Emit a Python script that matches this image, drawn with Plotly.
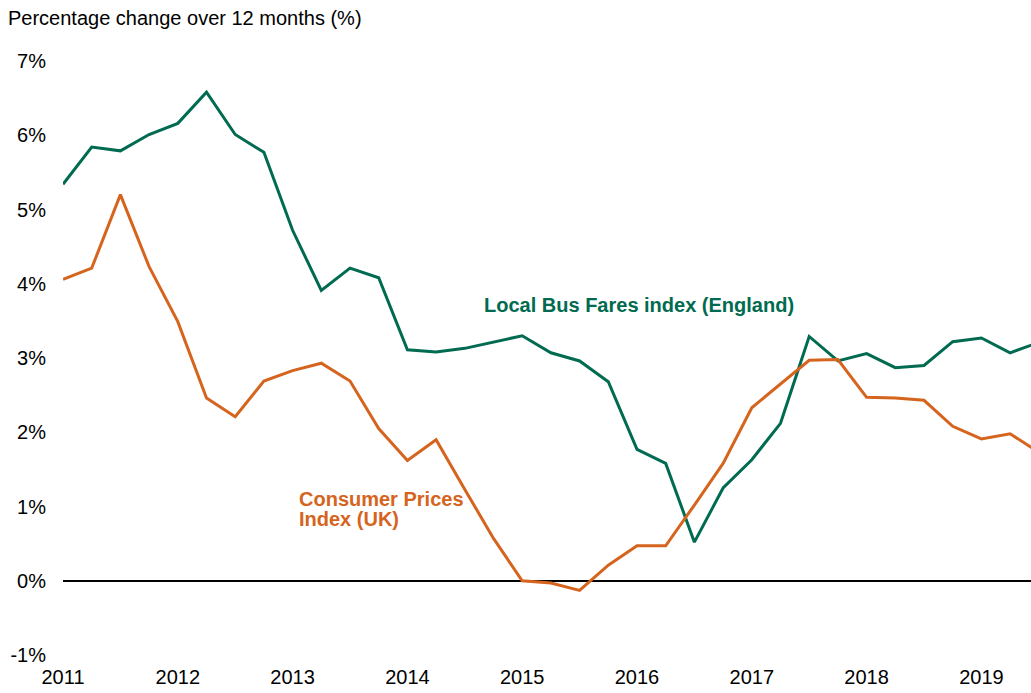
import plotly.graph_objects as go

# Quarterly observations, 2011 Q1 onward (x in decimal years)
quarters = [2011 + 0.25 * i for i in range(35)]

bus_fares = [5.34, 5.84, 5.79, 6.01, 6.16, 6.58, 6.01, 5.77, 4.72, 3.91,
             4.21, 4.08, 3.11, 3.08, 3.13, 3.22, 3.30, 3.07, 2.96, 2.68,
             1.77, 1.58, 0.52, 1.25, 1.63, 2.12, 3.29, 2.96, 3.06, 2.87,
             2.90, 3.22, 3.27, 3.07, 3.21]

cpi = [4.06, 4.21, 5.20, 4.23, 3.49, 2.46, 2.21, 2.69, 2.83, 2.93,
       2.69, 2.05, 1.62, 1.90, 1.23, 0.57, 0.00, -0.03, -0.13, 0.21,
       0.47, 0.47, 1.02, 1.58, 2.33, 2.65, 2.97, 2.98, 2.47, 2.46,
       2.43, 2.08, 1.91, 1.98, 1.73]

year_ticks = [2011, 2012, 2013, 2014, 2015, 2016, 2017, 2018, 2019]
year_labels = [str(y) for y in year_ticks]
y_ticks = [-1, 0, 1, 2, 3, 4, 5, 6, 7]
y_labels = [f"{v}%" for v in y_ticks]

GREEN = "#006B50"
ORANGE = "#D5641E"
FONT = "Liberation Sans, Arial, sans-serif"

fig = go.Figure()
fig.add_trace(go.Scatter(x=quarters, y=bus_fares, mode="lines",
                         line=dict(color=GREEN, width=3), name="Local Bus Fares index (England)"))
fig.add_trace(go.Scatter(x=quarters, y=cpi, mode="lines",
                         line=dict(color=ORANGE, width=3), name="Consumer Prices Index (UK)"))

fig.add_annotation(x=2016.02, y=3.71, xref="x", yref="y",
                   text="<b>Local Bus Fares index (England)</b>", showarrow=False,
                   font=dict(family=FONT, size=20, color=GREEN),
                   xanchor="center", yanchor="middle")
fig.add_annotation(x=2013.04, y=1.10, xref="x", yref="y",
                   text="<b>Consumer Prices</b>", showarrow=False,
                   font=dict(family=FONT, size=20, color=ORANGE),
                   xanchor="left", yanchor="middle")
fig.add_annotation(x=2013.04, y=0.83, xref="x", yref="y",
                   text="<b>Index (UK)</b>", showarrow=False,
                   font=dict(family=FONT, size=20, color=ORANGE),
                   xanchor="left", yanchor="middle")

fig.update_layout(
    width=1031, height=693,
    margin=dict(l=63, r=0, t=61, b=38, pad=0),
    paper_bgcolor="white", plot_bgcolor="white",
    showlegend=False,
    font=dict(family=FONT, size=20, color="#000000"),
    title=dict(text="Percentage change over 12 months (%)",
               x=8 / 1031, xref="container", xanchor="left",
               y=1 - 18 / 693, yref="container", yanchor="middle",
               font=dict(family=FONT, size=20, color="#000000")),
)
fig.update_xaxes(range=[2011, 2019.432], tickvals=year_ticks, ticktext=year_labels,
                 showgrid=False, zeroline=False, showline=False, ticks="",
                 ticklabelstandoff=8, tickfont=dict(size=20))
fig.update_yaxes(range=[-1, 7], tickvals=y_ticks, ticktext=y_labels,
                 showgrid=False, zeroline=True, zerolinecolor="#000000", zerolinewidth=1.5,
                 showline=False, ticks="", ticklabelstandoff=16, tickfont=dict(size=20))

fig.write_html("out.html")
